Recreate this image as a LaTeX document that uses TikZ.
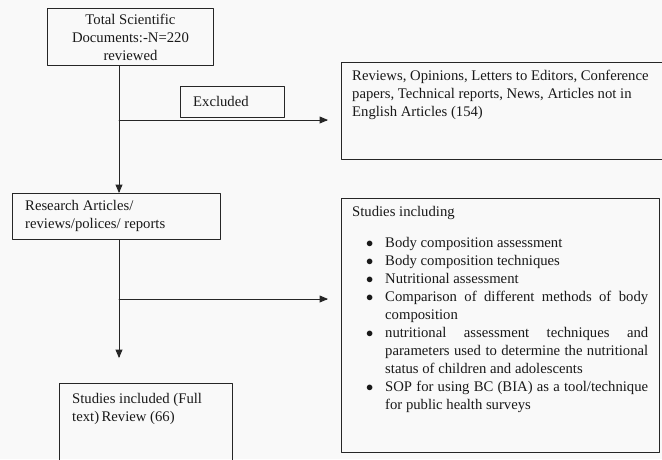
\documentclass[tikz,border=0pt]{standalone}
\usepackage{fontspec}
\setmainfont{Liberation Serif}
\usepackage{tikz}
\usetikzlibrary{arrows}

\tikzset{
  box/.style={draw=black!85, line width=0.9pt, rectangle, inner sep=0pt, anchor=north west},
  txt/.style={inner sep=0pt, anchor=north west, align=left},
  flow/.style={line width=0.9pt, draw=black!85}
}

\begin{document}
\begin{tikzpicture}[line cap=round,line join=round,>=triangle 45,x=1pt,y=-1pt,
    every node/.style={font=\fontsize{14.7}{18}\selectfont, text=black!90}]
            \useasboundingbox (0,0) rectangle (662,459);
            \fill [gray!5] (0,0) rectangle (662,459);
            \clip (0,0) rectangle (662,459);
            % left column
            \node [box, minimum width=166pt, minimum height=57pt, align=center] (total) at (47,8)
                {Total Scientific\\Documents:-N=220\\reviewed};
            \node [box, minimum width=104pt, minimum height=31pt] (excl) at (180,86) {};
            \node [txt, anchor=west] (exclt) at (193,101.5) {Excluded};
            \node [box, minimum width=208pt, minimum height=46pt] (research) at (12,193) {};
            \node [txt] (researcht) at (25,200) {Research Articles/\\reviews/polices/ reports};
            \node [box, minimum width=173pt, minimum height=120pt] (incl) at (59,383) {};
            \node [txt] (inclt) at (72,393) {Studies included (Full\\text)\,Review (66)};
            % right column
            \node [box, minimum width=340pt, minimum height=97pt] (reviews) at (341,62) {};
            \node [txt] (reviewst) at (352,70)
                {Reviews, Opinions, Letters to Editors, Conference\\
                 papers, Technical reports, News, Articles not in\\
                 English Articles (154)};
            \node [box, minimum width=318pt, minimum height=254pt] (studies) at (341,198) {};
            \node [txt, text width=296pt, align=justify] (studiest) at (352,206)
                {\hyphenpenalty=10000 Studies including\par\vspace{11pt}
                 \begin{list}{$\bullet$}{\setlength{\leftmargin}{33pt}\setlength{\labelsep}{12pt}%
                   \setlength{\itemsep}{0pt}\setlength{\parsep}{0pt}\setlength{\topsep}{0pt}}
                 \item Body composition assessment
                 \item Body composition techniques
                 \item Nutritional assessment
                 \item Comparison of different methods of body\linebreak composition
                 \item nutritional assessment techniques and\linebreak parameters used to determine the nutritional\linebreak status of children and adolescents
                 \item SOP for using BC (BIA) as a tool/technique\linebreak for public health surveys
                 \end{list}};
            % connectors
            \coordinate (j1) at (119,120);
            \coordinate (e1) at (328,120);
            \coordinate (j2) at (119,299);
            \coordinate (e2) at (328,299);
            \coordinate (t2) at (119,358);
            \draw [flow] (total.south -| j1) -- (j1);
            \draw [flow, ->] (j1) -- (research.north -| j1);
            \draw [flow, ->] (j1) -- (e1);
            \draw [flow] (research.south -| j2) -- (j2);
            \draw [flow, ->] (j2) -- (t2);
            \draw [flow, ->] (j2) -- (e2);
\end{tikzpicture}
\end{document}
